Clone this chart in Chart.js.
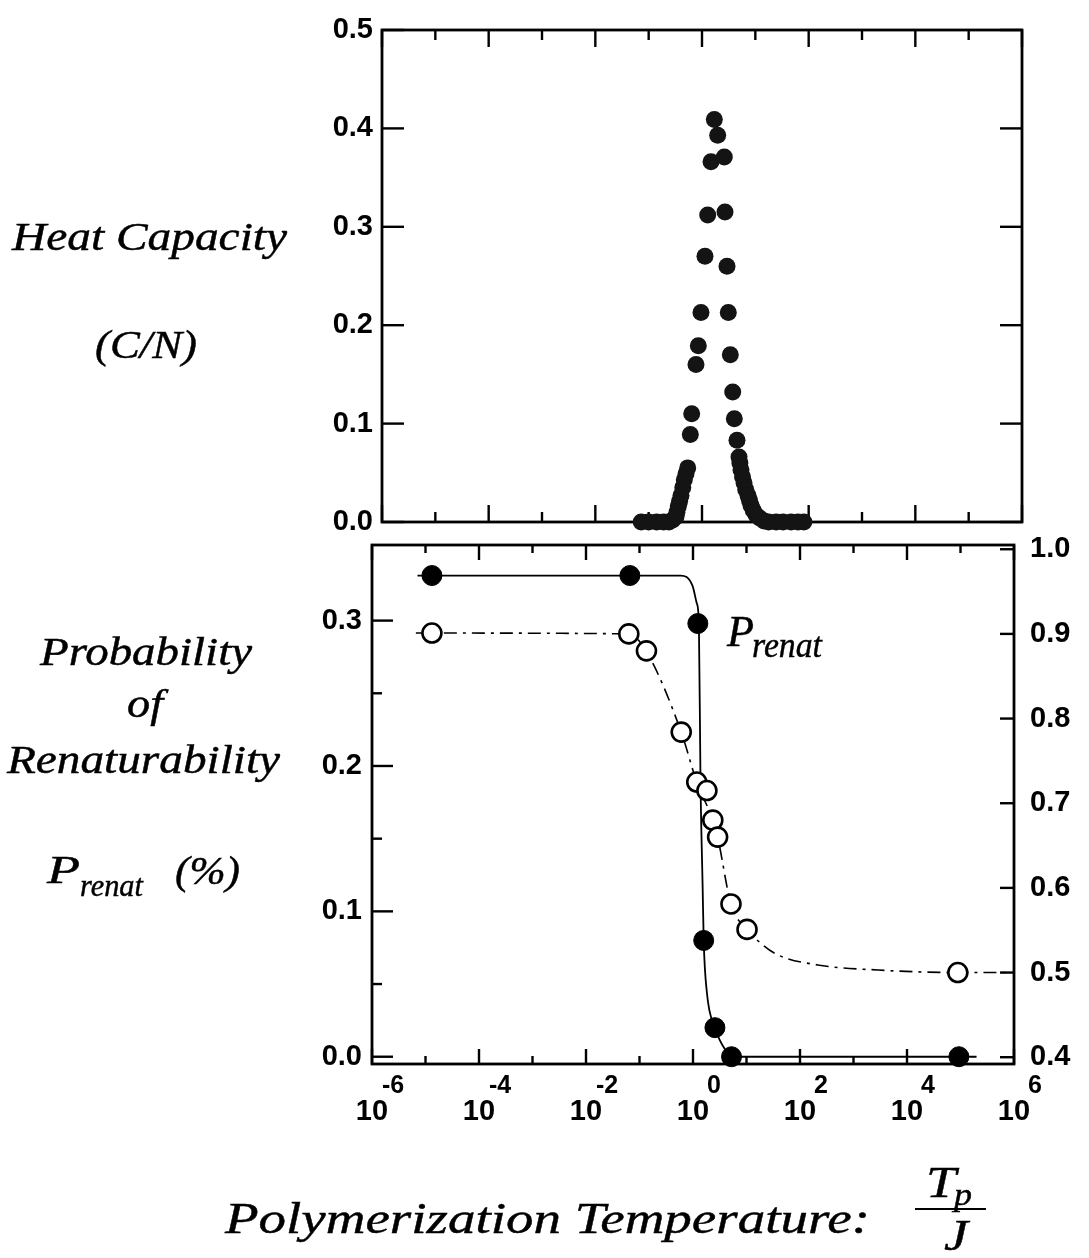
<!DOCTYPE html>
<html lang="en">
<head>
<meta charset="UTF-8">
<title>Heat capacity and renaturability</title>
<style>
  html, body { margin: 0; padding: 0; background: #fff; }
  #wrap { position: relative; width: 1089px; height: 1258px; overflow: hidden; }
  canvas { position: absolute; left: 0; top: 0; }
</style>
</head>
<body>
<div id="wrap">
  <canvas id="topChart" width="1089" height="1258"></canvas>
  <canvas id="bottomChart" width="1089" height="1258"></canvas>
</div>
<script src="https://cdn.jsdelivr.net/npm/chart.js"></script>
<script>
// ---- data (x values are log10(Tp/J)) ----
// heat capacity C/N
const hcLogT = [-1.14, -1.0, -0.85, -0.72, -0.62, -0.55, -0.488, -0.47, -0.444, -0.42, -0.394, -0.36,
                -0.332, -0.30, -0.268, -0.219, -0.193, -0.113, -0.069, -0.019, 0.056, 0.107, 0.169,
                0.231, 0.294, 0.418, 0.431, 0.469, 0.493, 0.531, 0.576, 0.606, 0.656, 0.694, 0.71,
                0.731, 0.76, 0.788, 0.82, 0.863, 0.89, 0.919, 0.96, 1.013, 1.08, 1.163, 1.25, 1.39,
                1.52, 1.67, 1.8, 1.91];
const hcValue = [0.0, 0.0, 0.0, 0.0, 0.0, 0.002, 0.005, 0.010, 0.016, 0.021, 0.027, 0.035,
                 0.043, 0.049, 0.055, 0.089, 0.110, 0.160, 0.179, 0.213, 0.270, 0.312, 0.366,
                 0.409, 0.393, 0.371, 0.315, 0.260, 0.213, 0.170, 0.132, 0.105, 0.083, 0.066, 0.060,
                 0.053, 0.046, 0.040, 0.033, 0.027, 0.022, 0.017, 0.012, 0.007, 0.004, 0.001, 0.0, 0.0,
                 0.0, 0.0, 0.0, 0.0];

// P_renat, filled circles (left axis)
const renatLogT = [-4.88, -1.18, 0.09, 0.20, 0.41, 0.72, 4.97];
const renatValue = [0.331, 0.331, 0.298, 0.080, 0.020, 0.0, 0.0];
// solid curve through the filled circles
const renatFitLogT = [-5.15, -1.2, -0.23, -0.01, 0.07, 0.11, 0.14, 0.18, 0.20, 0.26, 0.41, 0.60, 0.75, 5.3];
const renatFitValue = [0.331, 0.331, 0.331, 0.324, 0.312, 0.298, 0.190, 0.117, 0.080, 0.044, 0.020, 0.005, 0.0, 0.0];

// open circles (right axis)
const openLogT = [-4.88, -1.20, -0.87, -0.22, 0.07, 0.26, 0.37, 0.46, 0.71, 1.01, 4.95];
const openValue = [0.901, 0.900, 0.880, 0.784, 0.725, 0.715, 0.680, 0.660, 0.581, 0.551, 0.500];
// dash-dot curve through the open circles
const openFitLogT = [-5.18, -1.20, -0.88, -0.22, 0.07, 0.37, 0.46, 0.71, 1.01, 1.28, 1.58, 2.33, 3.46, 4.95, 5.95];
const openFitValue = [0.901, 0.900, 0.880, 0.784, 0.725, 0.680, 0.660, 0.581, 0.551, 0.534, 0.521, 0.509, 0.503, 0.500, 0.500];

// ticks
const evenDecades = [-6, -4, -2, 0, 2, 4, 6];
const oddDecades = [-5, -3, -1, 1, 3, 5];
const hcTicks = [0, 0.1, 0.2, 0.3, 0.4, 0.5];
const renatTicks = [0, 0.1, 0.2, 0.3];
const renatMinorTicks = [0.05, 0.15, 0.25];
const rightTicks = [0.4, 0.5, 0.6, 0.7, 0.8, 0.9, 1.0];

const pts = (xs, ys) => xs.map((x, i) => ({ x: x, y: ys[i] }));
const sansFamily = '"Liberation Sans", Arial, sans-serif';
const tickFont = { family: sansFamily, size: 29, weight: 'bold' };
const fixed = vals => s => { s.ticks = vals.map(v => ({ value: v })); };

// frame + inward ticks on all four sides
const framePlugin = {
  id: 'frame',
  beforeDatasetsDraw(chart, args, o) {
    const { ctx, chartArea: a, scales } = chart;
    const seg = (x1, y1, x2, y2) => { ctx.beginPath(); ctx.moveTo(x1, y1); ctx.lineTo(x2, y2); ctx.stroke(); };
    ctx.save();
    ctx.strokeStyle = '#000';
    ctx.lineWidth = 2.4;
    o.xMajor.concat(o.xMinor).forEach(v => {
      const px = scales.x.getPixelForValue(v);
      const len = o.xMajor.includes(v) ? o.xMajorLen : o.xMinorLen;
      seg(px, a.bottom, px, a.bottom - len);
      seg(px, a.top, px, a.top + len);
    });
    const sl = scales[o.leftId];
    o.leftMajor.concat(o.leftMinor).forEach(v => {
      const py = sl.getPixelForValue(v);
      const len = o.leftMajor.includes(v) ? o.leftMajorLen : o.leftMinorLen;
      seg(a.left, py, a.left + len, py);
      if (o.mirror) seg(a.right, py, a.right - len, py);
    });
    if (o.rightId) {
      const sr = scales[o.rightId];
      o.rightTicks.forEach(v => {
        const py = sr.getPixelForValue(v);
        seg(a.right, py, a.right - o.rightLen, py);
      });
    }
    ctx.lineWidth = 2.8;
    ctx.strokeRect(a.left, a.top, a.right - a.left, a.bottom - a.top);
    ctx.restore();
  }
};

// italic captions (axis titles and curve label)
const captionPlugin = {
  id: 'captions',
  afterDraw(chart, args, o) {
    const ctx = chart.ctx;
    ctx.save();
    ctx.fillStyle = '#000';
    ctx.strokeStyle = '#000';
    ctx.lineWidth = 0.45;
    ctx.textBaseline = 'alphabetic';
    o.runs.forEach(r => {
      ctx.font = 'italic ' + r.size + 'px "Liberation Serif", "Times New Roman", serif';
      const w = ctx.measureText(r.text).width;
      const k = r.w ? r.w / w : 1.15;
      ctx.save();
      ctx.translate(r.x, r.y);
      ctx.scale(k, 1);
      ctx.fillText(r.text, 0, 0);
      ctx.strokeText(r.text, 0, 0);
      ctx.restore();
    });
    (o.lines || []).forEach(l => {
      ctx.lineWidth = 2.2;
      ctx.beginPath(); ctx.moveTo(l[0], l[1]); ctx.lineTo(l[2], l[3]); ctx.stroke();
    });
    ctx.restore();
  }
};

const hiddenGrid = { display: false, drawTicks: false };

// ---- top panel: heat capacity ----
new Chart(document.getElementById('topChart'), {
  type: 'scatter',
  data: {
    datasets: [{
      data: pts(hcLogT, hcValue),
      pointRadius: 8.5,
      pointBackgroundColor: '#141414',
      pointBorderColor: '#141414',
      pointBorderWidth: 0,
      showLine: false,
      clip: false
    }]
  },
  options: {
    responsive: false,
    animation: false,
    events: [],
    layout: { padding: { left: 282, right: 67, top: 30, bottom: 736 } },
    plugins: {
      legend: { display: false },
      tooltip: { enabled: false },
      frame: {
        xMajor: evenDecades, xMinor: oddDecades, xMajorLen: 17, xMinorLen: 10,
        leftId: 'y', leftMajor: hcTicks, leftMinor: [], leftMajorLen: 22, leftMinorLen: 0, mirror: true
      }
    },
    scales: {
      x: {
        type: 'linear', min: -6, max: 6,
        ticks: { display: false },
        grid: hiddenGrid, border: { display: false },
        afterFit: s => { s.height = 0; }
      },
      y: {
        type: 'linear', min: 0, max: 0.5,
        afterBuildTicks: fixed(hcTicks),
        ticks: { callback: v => v.toFixed(1), font: tickFont, color: '#000', padding: 9 },
        grid: hiddenGrid, border: { display: false },
        afterFit: s => { s.width = 100; }
      }
    }
  },
  plugins: [framePlugin]
});

// ---- bottom panel: probability of renaturability ----
new Chart(document.getElementById('bottomChart'), {
  type: 'scatter',
  data: {
    datasets: [
      {
        label: 'P_renat',
        data: pts(renatLogT, renatValue),
        yAxisID: 'y',
        pointRadius: 10,
        pointBackgroundColor: '#000',
        pointBorderColor: '#000',
        pointBorderWidth: 1,
        showLine: false,
        clip: false,
        order: 1
      },
      {
        label: 'open',
        data: pts(openLogT, openValue),
        yAxisID: 'y1',
        pointRadius: 9.5,
        pointBackgroundColor: '#fff',
        pointBorderColor: '#000',
        pointBorderWidth: 2.6,
        showLine: false,
        clip: false,
        order: 2
      },
      {
        label: 'P_renat fit',
        data: pts(renatFitLogT, renatFitValue),
        yAxisID: 'y',
        showLine: true,
        pointRadius: 0,
        borderColor: '#000',
        borderWidth: 1.8,
        cubicInterpolationMode: 'monotone',
        clip: false,
        order: 3
      },
      {
        label: 'open fit',
        data: pts(openFitLogT, openFitValue),
        yAxisID: 'y1',
        showLine: true,
        pointRadius: 0,
        borderColor: '#000',
        borderWidth: 1.6,
        borderDash: [13, 6, 3, 6],
        cubicInterpolationMode: 'monotone',
        clip: false,
        order: 4
      }
    ]
  },
  options: {
    responsive: false,
    animation: false,
    events: [],
    layout: { padding: { left: 262, right: 0, top: 545, bottom: 126 } },
    plugins: {
      legend: { display: false },
      tooltip: { enabled: false },
      frame: {
        xMajor: evenDecades, xMinor: oddDecades, xMajorLen: 15, xMinorLen: 8,
        leftId: 'y', leftMajor: renatTicks, leftMinor: renatMinorTicks, leftMajorLen: 21, leftMinorLen: 10, mirror: false,
        rightId: 'y1', rightTicks: rightTicks, rightLen: 14
      },
      captions: {
        runs: [
          { text: 'Heat Capacity', x: 12, y: 250, size: 39, w: 275 },
          { text: '(C/N)', x: 95, y: 358, size: 39, w: 102 },
          { text: 'Probability', x: 40, y: 665, size: 39, w: 212 },
          { text: 'of', x: 127, y: 717, size: 39, w: 36 },
          { text: 'Renaturability', x: 7, y: 773, size: 39, w: 273 },
          { text: 'P', x: 47, y: 883, size: 39, w: 33 },
          { text: 'renat', x: 80, y: 896, size: 32, w: 63 },
          { text: '(%)', x: 175, y: 884, size: 39, w: 65 },
          { text: 'P', x: 727, y: 646, size: 44, w: 27 },
          { text: 'renat', x: 752, y: 657, size: 36, w: 70 },
          { text: 'Polymerization Temperature:', x: 225, y: 1233, size: 45, w: 645 },
          { text: 'T', x: 926, y: 1197, size: 45, w: 30 },
          { text: 'p', x: 954, y: 1205, size: 32, w: 18 },
          { text: 'J', x: 944, y: 1250, size: 45, w: 24 }
        ],
        lines: [[915, 1209, 986, 1209]]
      }
    },
    scales: {
      xe: {
        type: 'linear', position: 'bottom', weight: 0, min: -6, max: 6,
        afterBuildTicks: fixed(evenDecades),
        ticks: {
          autoSkip: false, maxRotation: 0, minRotation: 0,
          callback: v => String(v), labelOffset: 21, padding: 7,
          font: { family: sansFamily, size: 25, weight: 'bold' }, color: '#000'
        },
        grid: hiddenGrid, border: { display: false },
        afterFit: s => { s.height = 30; }
      },
      x: {
        type: 'linear', position: 'bottom', weight: 1, min: -6, max: 6,
        afterBuildTicks: fixed(evenDecades),
        ticks: {
          autoSkip: false, maxRotation: 0, minRotation: 0,
          callback: () => '10', padding: 1, font: tickFont, color: '#000'
        },
        grid: hiddenGrid, border: { display: false },
        afterFit: s => { s.height = 38; }
      },
      y: {
        type: 'linear', position: 'left', min: -0.005, max: 0.352,
        afterBuildTicks: fixed(renatTicks),
        ticks: { callback: v => v.toFixed(1), font: tickFont, color: '#000', padding: 10 },
        grid: hiddenGrid, border: { display: false },
        afterFit: s => { s.width = 110; }
      },
      y1: {
        type: 'linear', position: 'right', min: 0.392, max: 1.005,
        afterBuildTicks: fixed(rightTicks),
        ticks: { callback: v => v.toFixed(1), font: tickFont, color: '#000', padding: 16 },
        grid: hiddenGrid, border: { display: false },
        afterFit: s => { s.width = 75; }
      }
    }
  },
  plugins: [framePlugin, captionPlugin]
});
</script>
</body>
</html>
